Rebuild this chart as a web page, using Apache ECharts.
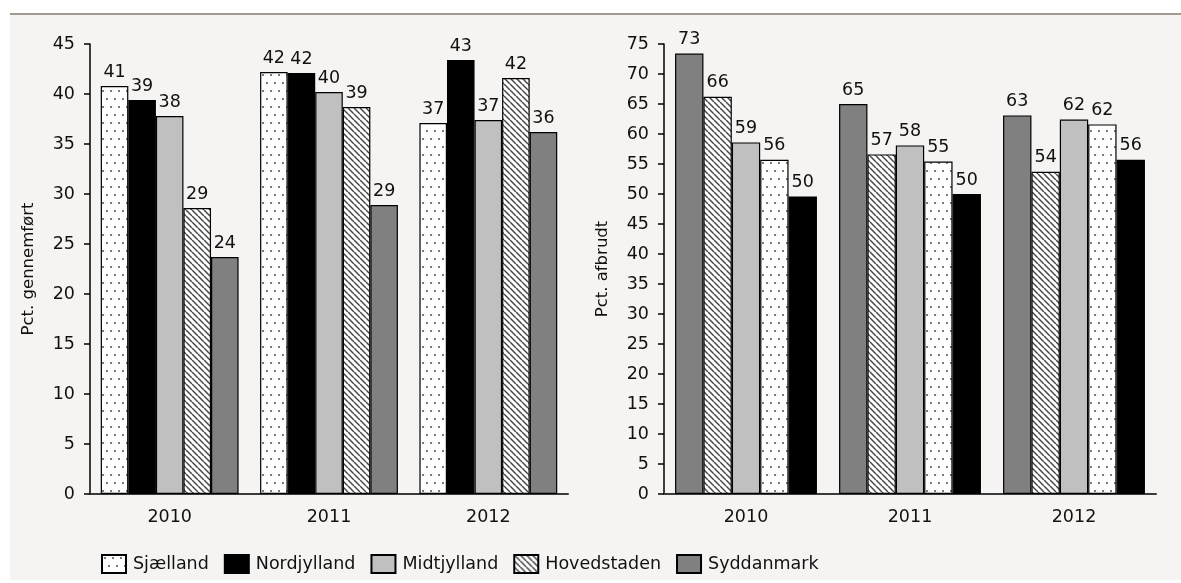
<!DOCTYPE html>
<html>
<head>
<meta charset="utf-8">
<script src="https://cdn.jsdelivr.net/npm/echarts@6/dist/echarts.min.js"></script>
<style>
  html, body { margin: 0; padding: 0; background: #ffffff; }
  #chart { width: 1181px; height: 583px; }
</style>
</head>
<body>
<div id="chart"></div>
<script>
// Regions and years
const years = ['2010', '2011', '2012'];
const regionOrder = ['Sjælland', 'Nordjylland', 'Midtjylland', 'Hovedstaden', 'Syddanmark'];
const regionOrderAfbrudt = ['Syddanmark', 'Hovedstaden', 'Midtjylland', 'Sjælland', 'Nordjylland'];

// Pct. gennemført per region (2010, 2011, 2012)
const gennemfoertSjaelland    = [40.8, 42.2, 37.1];
const gennemfoertNordjylland  = [39.4, 42.1, 43.4];
const gennemfoertMidtjylland  = [37.8, 40.2, 37.4];
const gennemfoertHovedstaden  = [28.6, 38.7, 41.6];
const gennemfoertSyddanmark   = [23.7, 28.9, 36.2];

// Pct. afbrudt per region (2010, 2011, 2012)
const afbrudtSyddanmark   = [73.4, 65.0, 63.1];
const afbrudtHovedstaden  = [66.2, 56.6, 53.7];
const afbrudtMidtjylland  = [58.6, 58.1, 62.4];
const afbrudtSjaelland    = [55.7, 55.4, 61.6];
const afbrudtNordjylland  = [49.6, 50.0, 55.7];

const gennemfoert = {
  'Sjælland': gennemfoertSjaelland,
  'Nordjylland': gennemfoertNordjylland,
  'Midtjylland': gennemfoertMidtjylland,
  'Hovedstaden': gennemfoertHovedstaden,
  'Syddanmark': gennemfoertSyddanmark
};
const afbrudt = {
  'Syddanmark': afbrudtSyddanmark,
  'Hovedstaden': afbrudtHovedstaden,
  'Midtjylland': afbrudtMidtjylland,
  'Sjælland': afbrudtSjaelland,
  'Nordjylland': afbrudtNordjylland
};

// Fill patterns
function dotPattern() {
  const c = document.createElement('canvas');
  c.width = 8; c.height = 16;
  const g = c.getContext('2d');
  g.fillStyle = '#ffffff';
  g.fillRect(0, 0, 8, 16);
  g.fillStyle = '#7a7a7a';
  g.fillRect(2, 2, 2, 2);
  g.fillRect(6, 10, 2, 2);
  return c;
}
function hatchPattern() {
  const c = document.createElement('canvas');
  c.width = 6; c.height = 6;
  const g = c.getContext('2d');
  g.fillStyle = '#ffffff';
  g.fillRect(0, 0, 6, 6);
  g.strokeStyle = '#4a4a4a';
  g.lineWidth = 1.5;
  g.beginPath();
  [-6, 0, 6].forEach(o => { g.moveTo(o, 0); g.lineTo(o + 6, 6); });
  g.stroke();
  return c;
}

const fills = {
  'Sjælland': { image: dotPattern(), repeat: 'repeat' },
  'Nordjylland': '#000000',
  'Midtjylland': '#c0c0c0',
  'Hovedstaden': { image: hatchPattern(), repeat: 'repeat' },
  'Syddanmark': '#808080'
};

const FONT = 'DejaVu Sans';
const TEXT = '#111111';
const FS = 17.5;

function makeSeries(name, data, axisIndex) {
  return {
    name: name,
    type: 'bar',
    xAxisIndex: axisIndex,
    yAxisIndex: axisIndex,
    data: data,
    barGap: '0%',
    barCategoryGap: '13.5%',
    itemStyle: { color: fills[name], borderColor: '#000000', borderWidth: 1.2 },
    label: {
      show: true,
      position: 'top',
      distance: 5,
      color: TEXT,
      fontFamily: FONT,
      fontSize: FS,
      formatter: p => Math.round(p.value)
    },
    emphasis: { disabled: true },
    animation: false
  };
}

function xAxis(gridIndex) {
  return {
    type: 'category',
    gridIndex: gridIndex,
    data: years,
    axisLine: { lineStyle: { color: '#3a3a3a', width: 2 } },
    axisTick: { show: false },
    axisLabel: { color: TEXT, fontFamily: FONT, fontSize: FS, margin: 14 }
  };
}
function yAxis(gridIndex, max, name) {
  return {
    type: 'value',
    gridIndex: gridIndex,
    min: 0,
    max: max,
    interval: 5,
    name: name,
    nameLocation: 'middle',
    nameGap: 53,
    nameTextStyle: { color: TEXT, fontFamily: FONT, fontSize: 16.5 },
    axisLine: { show: true, lineStyle: { color: '#000000', width: 1.5 } },
    axisTick: { show: true, length: 6, lineStyle: { color: '#000000', width: 1.5 } },
    axisLabel: { color: TEXT, fontFamily: FONT, fontSize: FS, margin: 15 },
    splitLine: { show: false }
  };
}

const series = [];
regionOrder.forEach(n => series.push(makeSeries(n, gennemfoert[n], 0)));
regionOrderAfbrudt.forEach(n => series.push(makeSeries(n, afbrudt[n], 1)));

const chart = echarts.init(document.getElementById('chart'), null, { renderer: 'canvas' });
chart.setOption({
  animation: false,
  graphic: [
    { type: 'rect', z: -10, silent: true, shape: { x: 10, y: 15, width: 1171, height: 565 }, style: { fill: '#f5f4f2' } },
    { type: 'line', z: -9, silent: true, shape: { x1: 10, y1: 14, x2: 1181, y2: 14 }, style: { stroke: '#a19b90', lineWidth: 2 } }
  ],
  grid: [
    { left: 90, right: 613, top: 44, bottom: 89 },
    { left: 664, right: 25, top: 44, bottom: 89 }
  ],
  xAxis: [xAxis(0), xAxis(1)],
  yAxis: [yAxis(0, 45, 'Pct. gennemført'), yAxis(1, 75, 'Pct. afbrudt')],
  legend: {
    data: regionOrder,
    left: 96,
    top: 549,
    itemWidth: 24,
    itemHeight: 18,
    itemGap: 15,
    icon: 'rect',
    selectedMode: false,
    textStyle: { color: TEXT, fontFamily: FONT, fontSize: FS, padding: [0, 0, 0, 2] }
  },
  series: series
});
</script>
</body>
</html>
